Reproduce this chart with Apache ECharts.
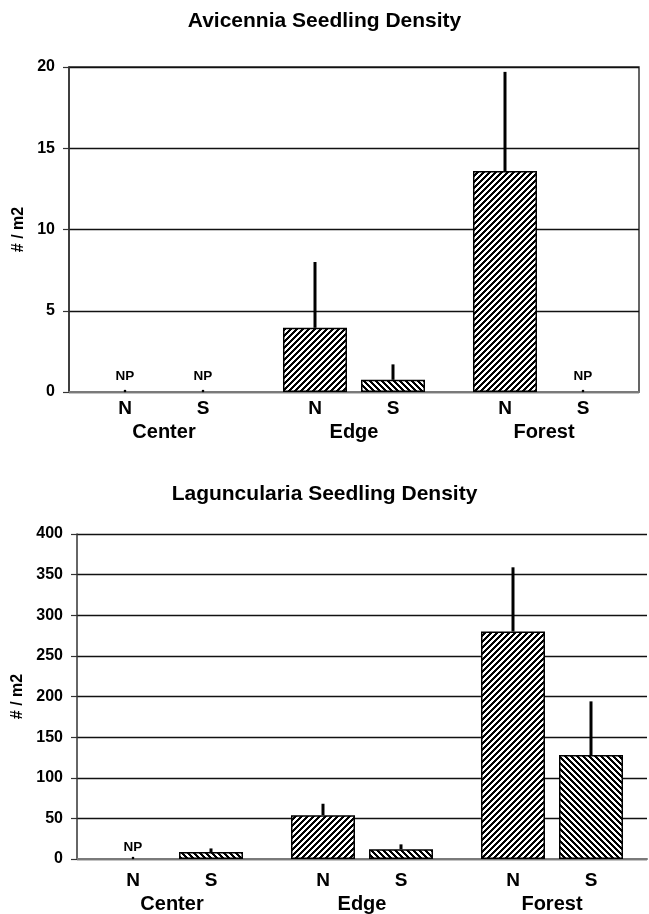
<!DOCTYPE html>
<html>
<head>
<meta charset="utf-8">
<script src="https://cdn.jsdelivr.net/npm/echarts@6/dist/echarts.min.js"></script>
<style>
html,body{margin:0;padding:0;background:#fff;}
#chart{width:649px;height:914px;}
</style>
</head>
<body>
<div id="chart"></div>
<script>
// ---- data ----
const categories = ['Center', 'Edge', 'Forest'];
const subLabels = ['N', 'S'];
const titles = ['Avicennia Seedling Density', 'Laguncularia Seedling Density'];
const yName = '# / m2';
const npText = 'NP';

// Avicennia (null = NP, not present)
const aviN    = [null, 3.95, 13.6];
const aviNErr = [null, 4.05, 6.1];
const aviS    = [null, 0.75, null];
const aviSErr = [null, 0.95, null];

// Laguncularia
const lagN    = [null, 54, 280];
const lagNErr = [null, 14, 79];
const lagS    = [8.5, 12, 128];
const lagSErr = [4.5, 6, 66];

const aviTicks = {min: 0, max: 20, interval: 5};
const lagTicks = {min: 0, max: 400, interval: 50};

// ---- styling ----
const FONT = 'Liberation Sans, Arial, sans-serif';
const BAR_W = 64, BAR_GAP = 14;

function hatch(dir) {
  const p = 6, c = document.createElement('canvas');
  c.width = p; c.height = p;
  const ctx = c.getContext('2d');
  const img = ctx.createImageData(p, p);
  for (let y = 0; y < p; y++) for (let x = 0; x < p; x++) {
    const k = dir > 0 ? (x + y) % p : ((x - y) % p + p) % p;
    const v = k < 3 ? 0 : 255;
    const i = (y * p + x) * 4;
    img.data[i] = v; img.data[i + 1] = v; img.data[i + 2] = v; img.data[i + 3] = 255;
  }
  ctx.putImageData(img, 0, 0);
  return c;
}
const patN = {image: hatch(1), repeat: 'repeat'};
const patS = {image: hatch(-1), repeat: 'repeat'};

function errData(nV, nE, sV, sE) {
  const out = [];
  categories.forEach((c, i) => {
    out.push([i, nV[i] == null ? 0 : nV[i], nE[i] == null ? 0 : nE[i], -1, nV[i] == null ? 1 : 0]);
    out.push([i, sV[i] == null ? 0 : sV[i], sE[i] == null ? 0 : sE[i], 1, sV[i] == null ? 1 : 0]);
  });
  return out;
}

function makeRender(data, npLift) {
  return function (params, api) {
    const d = data[params.dataIndex];
    const off = d[3] * (BAR_W + BAR_GAP) / 2;
    const base = api.coord([d[0], 0]);
    const x = base[0] + off;
    if (d[4]) {
      return {type: 'group', children: [
        {type: 'circle', shape: {cx: x, cy: base[1] - 1, r: 1.3}, style: {fill: '#000'}},
        {type: 'text', x: x, y: base[1] - npLift,
         style: {text: npText, fontSize: 13.5, fontWeight: 'bold', fontFamily: FONT, fill: '#000', align: 'center', verticalAlign: 'middle'}}
      ]};
    }
    const p0 = api.coord([d[0], d[1]]);
    const p1 = api.coord([d[0], d[1] + d[2]]);
    return {type: 'line', shape: {x1: x, y1: p0[1], x2: x, y2: p1[1]},
            style: {stroke: '#000', lineWidth: 3}};
  };
}

const aviErr = errData(aviN, aviNErr, aviS, aviSErr);
const lagErr = errData(lagN, lagNErr, lagS, lagSErr);

function xAxes(gi, m1, off2) {
  return [
    {gridIndex: gi, type: 'category', data: categories,
     axisLine: {lineStyle: {color: '#7a7a7a', width: 2}},
     axisTick: {length: 5, lineStyle: {color: '#444', width: 1}},
     axisLabel: {margin: m1, formatter: () => `{s|${subLabels[0]}}{g|}{s|${subLabels[1]}}`,
       rich: {s: {width: 20, align: 'center', fontSize: 19, fontWeight: 'bold', fontFamily: FONT, color: '#000'},
              g: {width: 58}}},
     splitLine: {show: false}},
    {gridIndex: gi, type: 'category', data: categories, position: 'bottom', offset: off2,
     axisLine: {show: false}, axisTick: {show: false},
     axisLabel: {margin: 5, fontSize: 20, fontWeight: 'bold', fontFamily: FONT, color: '#000'},
     splitLine: {show: false}}
  ];
}

function yAxis(gi, t, gap) {
  return {gridIndex: gi, type: 'value', min: t.min, max: t.max, interval: t.interval,
    name: yName, nameLocation: 'middle', nameRotate: 90, nameGap: gap,
    nameTextStyle: {fontSize: 16, fontWeight: 'bold', fontFamily: FONT, color: '#000'},
    axisLine: {show: true, lineStyle: {color: '#333', width: 1.5}},
    axisTick: {show: true, length: 6, lineStyle: {color: '#333', width: 1.2}},
    axisLabel: {margin: 14, fontSize: 16, fontWeight: 'bold', fontFamily: FONT, color: '#000'},
    splitLine: {show: true, lineStyle: {color: '#111', width: 1.3}}};
}

function bars(xi, yi, vals, name, pat) {
  return {type: 'bar', name: name, xAxisIndex: xi, yAxisIndex: yi,
    data: vals.map(v => v == null ? '-' : v),
    barWidth: BAR_W, barGap: (BAR_GAP / BAR_W * 100).toFixed(1) + '%',
    itemStyle: {color: pat, borderColor: '#000', borderWidth: 1.5},
    emphasis: {disabled: true}, z: 2};
}

const chart = echarts.init(document.getElementById('chart'), null, {renderer: 'canvas'});
chart.setOption({
  animation: false,
  backgroundColor: '#fff',
  title: [
    {text: titles[0], left: 'center', top: 6, textStyle: {fontSize: 21, fontWeight: 'bold', fontFamily: FONT, color: '#000'}},
    {text: titles[1], left: 'center', top: 479, textStyle: {fontSize: 21, fontWeight: 'bold', fontFamily: FONT, color: '#000'}}
  ],
  grid: [
    {left: 69, right: 10, top: 67, height: 325, show: true, borderColor: '#333', borderWidth: 1.5, backgroundColor: 'transparent'},
    {left: 77, right: 2, top: 534, height: 325}
  ],
  xAxis: [...xAxes(0, 7, 25), ...xAxes(1, 12, 30)],
  yAxis: [yAxis(0, aviTicks, 42), yAxis(1, lagTicks, 50)],
  series: [
    bars(0, 0, aviN, subLabels[0], patN),
    bars(0, 0, aviS, subLabels[1], patS),
    {type: 'custom', xAxisIndex: 0, yAxisIndex: 0, data: aviErr, encode: {x: 0, y: 1},
     renderItem: makeRender(aviErr, 16), z: 5, silent: true},
    bars(2, 1, lagN, subLabels[0], patN),
    bars(2, 1, lagS, subLabels[1], patS),
    {type: 'custom', xAxisIndex: 2, yAxisIndex: 1, data: lagErr, encode: {x: 0, y: 1},
     renderItem: makeRender(lagErr, 12), z: 5, silent: true}
  ]
});
</script>
</body>
</html>
